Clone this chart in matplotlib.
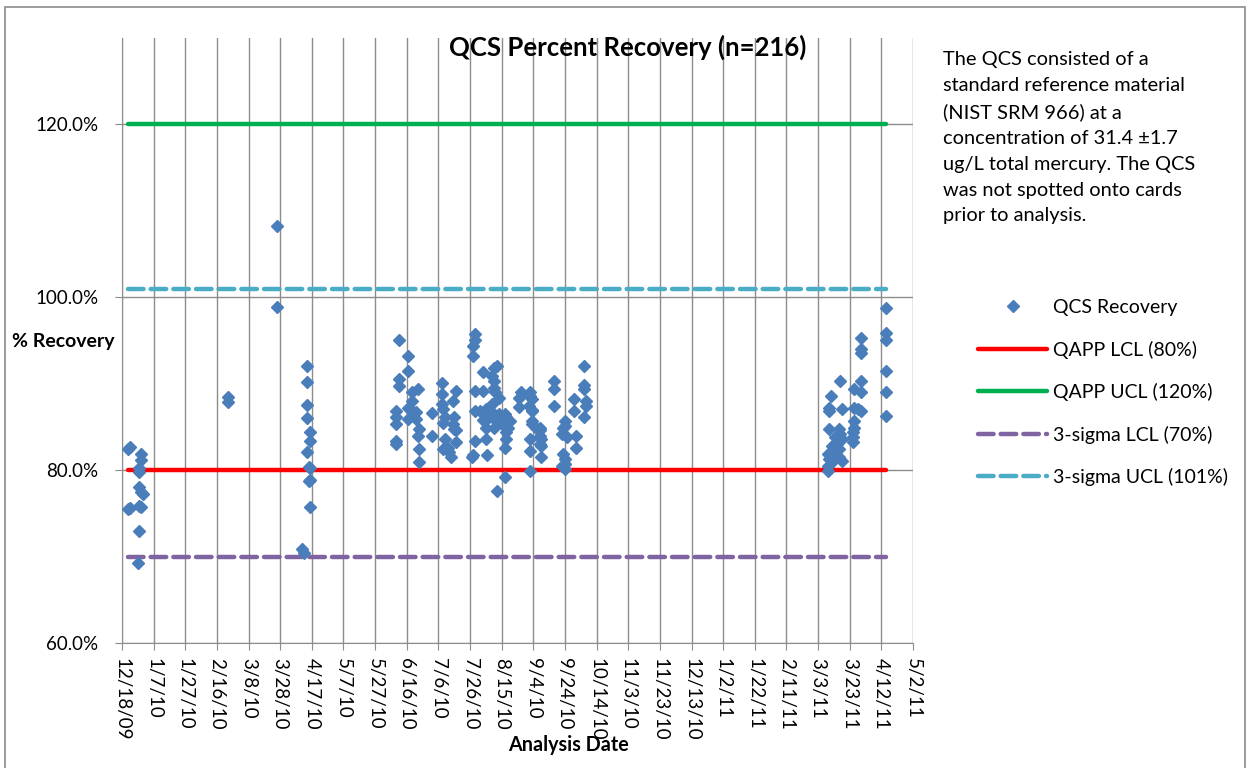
import numpy as np
import pandas as pd
import matplotlib
matplotlib.use("Agg")
import matplotlib.pyplot as plt
import matplotlib.dates as mdates
from matplotlib.patches import Rectangle

plt.rcParams["font.family"] = ["Lato", "DejaVu Sans"]

# QCS recovery results, grouped by analysis day
qcs_days = {
    "2009-12-22": [82.4, 75.5],
    "2009-12-23": [82.7, 75.6],
    "2009-12-28": [69.3],
    "2009-12-29": [80.3, 79.8, 78.0, 75.9, 73.0],
    "2009-12-30": [81.9, 81.2, 77.5, 75.7],
    "2009-12-31": [77.2],
    "2010-02-23": [88.5, 87.9],
    "2010-03-26": [108.3, 98.9],
    "2010-04-11": [70.9],
    "2010-04-12": [70.4],
    "2010-04-14": [92.0, 90.2, 87.5, 86.0, 82.1],
    "2010-04-15": [80.4, 78.7],
    "2010-04-16": [84.4, 83.4, 80.2, 78.9, 75.7],
    "2010-06-09": [86.9, 86.1, 85.3, 83.4, 83.0],
    "2010-06-11": [95.1, 90.5, 89.7],
    "2010-06-17": [93.2, 91.5, 87.2, 85.9],
    "2010-06-19": [89.0, 88.0, 86.9],
    "2010-06-22": [86.7, 85.9],
    "2010-06-23": [89.4, 84.0],
    "2010-06-24": [84.8, 82.5, 80.9],
    "2010-07-02": [86.6, 84.0],
    "2010-07-08": [90.1, 88.8, 87.6],
    "2010-07-09": [87.1, 85.5, 82.4],
    "2010-07-10": [86.1, 83.6],
    "2010-07-12": [82.6],
    "2010-07-13": [82.1],
    "2010-07-14": [81.5],
    "2010-07-15": [88.0, 85.3],
    "2010-07-16": [86.1, 84.8],
    "2010-07-17": [89.2, 84.6, 83.2],
    "2010-07-27": [81.5],
    "2010-07-28": [94.4, 93.2, 81.7],
    "2010-07-29": [95.7, 95.1, 89.2, 86.9, 83.4],
    "2010-08-01": [86.9],
    "2010-08-03": [91.3, 89.2, 85.8],
    "2010-08-05": [87.1, 84.9, 83.6],
    "2010-08-06": [85.9, 81.7],
    "2010-08-09": [90.9, 87.6],
    "2010-08-10": [91.8, 90.3, 89.5, 86.5, 85.9, 84.9],
    "2010-08-11": [89.0],
    "2010-08-12": [92.0, 77.6],
    "2010-08-13": [88.4, 86.5, 85.7],
    "2010-08-17": [86.5, 85.0, 82.6, 79.2],
    "2010-08-18": [86.1, 84.4, 83.6],
    "2010-08-19": [85.7, 84.9],
    "2010-08-20": [85.7],
    "2010-08-26": [88.4, 87.3],
    "2010-08-27": [89.0],
    "2010-09-01": [87.4],
    "2010-09-02": [89.0, 88.6, 83.6, 82.2, 79.9],
    "2010-09-03": [88.2, 87.0, 86.9, 85.7, 85.3],
    "2010-09-06": [84.9],
    "2010-09-08": [84.9, 84.6, 84.0, 83.0],
    "2010-09-09": [83.6, 82.8, 81.5],
    "2010-09-17": [90.3, 89.4, 87.4],
    "2010-09-22": [84.2, 80.5],
    "2010-09-23": [84.9, 81.9],
    "2010-09-24": [85.7, 85.1, 81.3, 80.7, 80.1],
    "2010-09-25": [83.8],
    "2010-09-30": [88.2, 86.9],
    "2010-10-01": [84.0, 82.6],
    "2010-10-06": [92.0, 89.9, 89.4, 86.1],
    "2010-10-07": [88.0, 87.4],
    "2011-03-09": [81.9, 80.5, 79.9],
    "2011-03-10": [87.2, 86.9, 84.8, 81.3],
    "2011-03-11": [88.6, 82.0],
    "2011-03-12": [82.8, 80.9],
    "2011-03-14": [83.8, 81.9],
    "2011-03-15": [83.0],
    "2011-03-16": [84.8, 82.4, 81.5],
    "2011-03-17": [90.3, 84.2],
    "2011-03-18": [87.1, 83.6, 81.1],
    "2011-03-25": [84.4, 83.8, 83.2],
    "2011-03-26": [89.4, 87.2, 85.7, 84.9],
    "2011-03-28": [87.1],
    "2011-03-30": [95.3, 94.0, 93.6, 90.3, 89.0, 86.9],
    "2011-04-15": [98.8, 95.9, 95.1, 91.5, 89.0, 86.3],
}

limit_labels = ["QAPP LCL (80%)", "QAPP UCL (120%)", "3-sigma LCL (70%)", "3-sigma UCL (101%)"]
limit_values = [80, 120, 70, 101]
limit_colors = ["#FF0000", "#00B050", "#8064A2", "#4BACC6"]
limit_styles = ["-", "-", "--", "--"]

note = ("The QCS consisted of a\nstandard reference material\n(NIST SRM 966) at a\n"
        "concentration of 31.4 \u00b11.7\nug/L total mercury. The QCS\n"
        "was not spotted onto cards\nprior to analysis.")

dates, values = [], []
for d, vals in qcs_days.items():
    for v in vals:
        dates.append(pd.Timestamp(d))
        values.append(v)
dates = np.array(dates)
values = np.array(values)

fig = plt.figure(figsize=(12.52, 7.68), dpi=100)
ax = fig.add_axes([122 / 1252, 1 - 643 / 768, (913 - 122) / 1252, (643 - 38) / 768])

ax.plot(dates, values, linestyle="none", marker="D", markersize=6.2,
        color="#4A7EBB", label="QCS Recovery", zorder=3)

line_x = [dates.min(), dates.max()]
for lab, val, col, ls in zip(limit_labels, limit_values, limit_colors, limit_styles):
    kw = dict(dashes=(3.5, 1.6)) if ls == "--" else {}
    ax.plot(line_x, [val, val], color=col, linewidth=3.2, linestyle=ls,
            label=lab, solid_capstyle="round", dash_capstyle="round", zorder=2, **kw)

x0 = mdates.date2num(pd.Timestamp("2009-12-18"))
x1 = mdates.date2num(pd.Timestamp("2011-05-02"))
ax.set_xlim(x0, x1)
ticks = np.arange(x0, x1 + 1, 20)
ax.set_xticks(ticks)
ax.set_xticklabels([f"{d.month}/{d.day}/{d:%y}" for d in mdates.num2date(ticks)],
                   rotation=-90, fontsize=13.5)
ax.set_ylim(60, 130)
ax.set_yticks([60, 80, 100, 120])
ax.set_yticklabels([f"{v:.1f}%" for v in [60, 80, 100, 120]], fontsize=13.5)

ax.grid(True, color="#8C8C8C", linewidth=1)
ax.set_axisbelow(True)
for s in ["top", "right"]:
    ax.spines[s].set_visible(False)
for s in ["left", "bottom"]:
    ax.spines[s].set_color("#8C8C8C")
ax.tick_params(axis="both", color="#8C8C8C", length=5, pad=6)
ax.tick_params(axis="y", pad=12)

fig.text(628 / 1252, 1 - 47 / 768, "QCS Percent Recovery (n=216)", ha="center",
         va="center", fontsize=18.5, fontweight="bold")
fig.text(12 / 1252, 1 - 341 / 768, "% Recovery", ha="left", va="center",
         fontsize=14, fontweight="bold")
fig.text(568 / 1252, 1 - 745 / 768, "Analysis Date", ha="center", va="center",
         fontsize=14.2, fontweight="bold")
fig.text(943 / 1252, 1 - 51 / 768, note, ha="left", va="top", fontsize=14.4,
         linespacing=1.63)

handles, labels = ax.get_legend_handles_labels()
fig.legend(handles, labels, loc="upper left", bbox_to_anchor=(978 / 1252, 1 - 299 / 768),
           frameon=False, fontsize=14, handlelength=3.55, handletextpad=0.3,
           labelspacing=1.26, borderpad=0, borderaxespad=0)

fig.patches.append(Rectangle((5 / 1252, -0.02), 1240 / 1252, 1.02 - 7 / 768,
                             transform=fig.transFigure, fill=False,
                             edgecolor="#8C8C8C", linewidth=1.2))

fig.savefig("out.png", dpi=100)
